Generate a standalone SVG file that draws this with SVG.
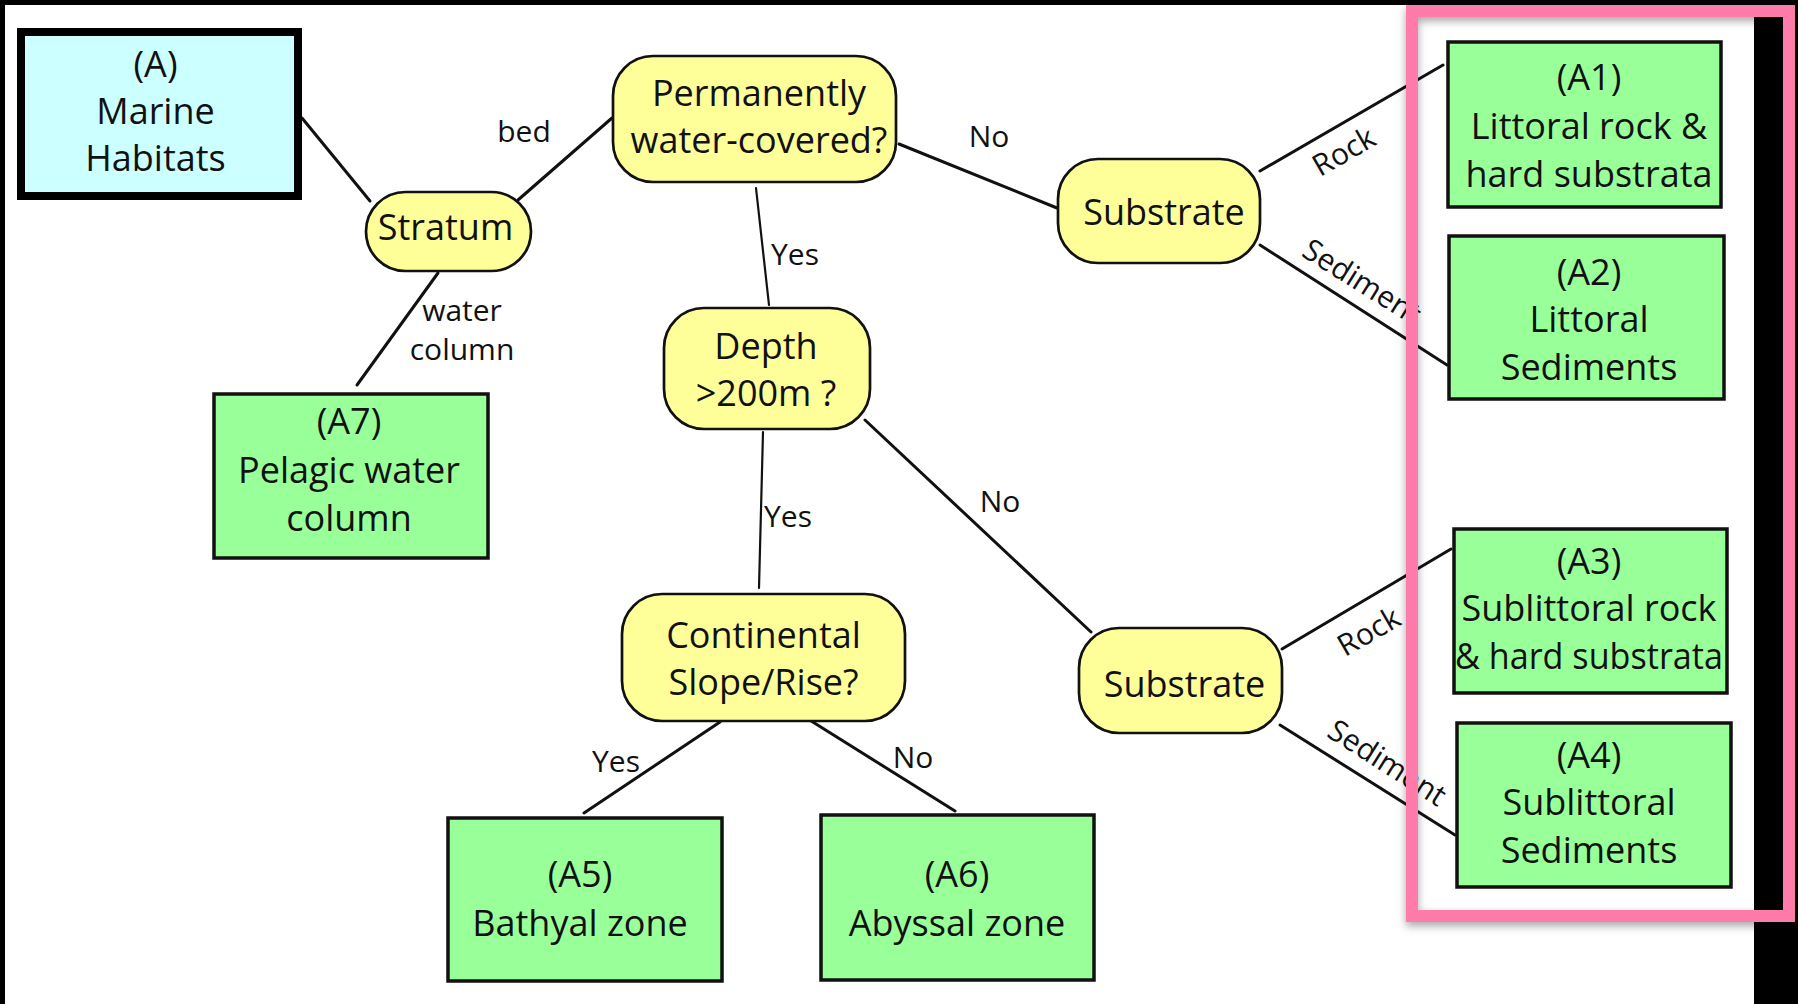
<svg xmlns="http://www.w3.org/2000/svg" width="1798" height="1004" viewBox="0 0 1798 1004">
<defs>
<style>
.t{font-family:"Open Sans","Noto Sans","Liberation Sans",sans-serif;font-size:36px;fill:#111;text-anchor:middle}
.l{font-family:"Open Sans","Noto Sans","Liberation Sans",sans-serif;font-size:30px;fill:#111;text-anchor:middle}
.dec{fill:#ffff99;stroke:#111;stroke-width:2.7}
.res{fill:#99ff99;stroke:#111;stroke-width:3.5}
.root{fill:#ccffff;stroke:#000;stroke-width:8}
.c line{stroke:#111;stroke-width:3;stroke-linecap:round}
.c line.thin{stroke-width:2.2}
</style>
<filter id="sh" x="-5%" y="-5%" width="115%" height="115%">
<feGaussianBlur stdDeviation="4"/>
</filter>
</defs>
<rect x="0" y="0" width="1798" height="1004" fill="#000"/>
<rect x="5" y="5" width="1749" height="999" fill="#fff"/>

<g id="connectors" class="c">
<line x1="302" y1="118" x2="370" y2="201"/>
<line x1="518" y1="200" x2="612" y2="118"/>
<line x1="438" y1="273" x2="357" y2="385"/>
<line x1="899" y1="144" x2="1057" y2="208"/>
<line class="thin" x1="756" y1="188" x2="769" y2="305"/>
<line class="thin" x1="763" y1="432" x2="759" y2="588"/>
<line x1="865" y1="420" x2="1091" y2="632"/>
<line x1="720" y1="722" x2="584" y2="813"/>
<line x1="808" y1="719" x2="955" y2="811"/>
<line x1="1260" y1="171" x2="1443" y2="65"/>
<line x1="1260" y1="245" x2="1447" y2="365"/>
<line x1="1282" y1="649" x2="1451" y2="549"/>
<line x1="1280" y1="725" x2="1455" y2="835"/>
</g>

<g id="edge-labels">
<text class="l" x="524" y="142">bed</text>
<text class="l" x="462" y="321">water</text>
<text class="l" x="462" y="360">column</text>
<text class="l" x="989" y="147">No</text>
<text class="l" x="795" y="265">Yes</text>
<text class="l" x="788" y="527">Yes</text>
<text class="l" x="1000" y="512">No</text>
<text class="l" x="616" y="772">Yes</text>
<text class="l" x="913" y="768">No</text>
<text class="l" transform="translate(1344,152) rotate(-30)" x="0" y="10">Rock</text>
<text class="l" transform="translate(1362,282) rotate(32)" x="0" y="10">Sediment</text>
<text class="l" transform="translate(1369,632) rotate(-30)" x="0" y="10">Rock</text>
<text class="l" transform="translate(1387,763) rotate(32.5)" x="0" y="10">Sediment</text>
</g>

<g id="node-A">
<rect class="root" x="21" y="32" width="277" height="164"/>
<text class="t" x="155.5" y="77">(A)</text>
<text class="t" x="155.5" y="124">Marine</text>
<text class="t" x="155.5" y="171">Habitats</text>
</g>
<g id="node-stratum">
<rect class="dec" x="366" y="192" width="165" height="79" rx="39.5"/>
<text class="t" x="445.5" y="240">Stratum</text>
</g>
<g id="node-permanently">
<rect class="dec" x="613" y="56" width="283" height="126" rx="40"/>
<text class="t" x="759" y="106">Permanently</text>
<text class="t" x="759" y="153">water-covered?</text>
</g>
<g id="node-substrate-top">
<rect class="dec" x="1058" y="159" width="202" height="104" rx="40"/>
<text class="t" x="1164" y="225">Substrate</text>
</g>
<g id="node-depth">
<rect class="dec" x="664" y="308" width="206" height="121" rx="40"/>
<text class="t" x="766" y="359">Depth</text>
<text class="t" x="766" y="406">&gt;200m ?</text>
</g>
<g id="node-continental">
<rect class="dec" x="622" y="594" width="283" height="127" rx="40"/>
<text class="t" x="763.5" y="648">Continental</text>
<text class="t" x="763.5" y="695">Slope/Rise?</text>
</g>
<g id="node-substrate-bottom">
<rect class="dec" x="1079" y="628" width="203" height="105" rx="40"/>
<text class="t" x="1184.5" y="697">Substrate</text>
</g>
<g id="node-A7">
<rect class="res" x="214" y="394" width="274" height="164"/>
<text class="t" x="349" y="434">(A7)</text>
<text class="t" x="349" y="483">Pelagic water</text>
<text class="t" x="349" y="531">column</text>
</g>
<g id="node-A5">
<rect class="res" x="448" y="818" width="274" height="163"/>
<text class="t" x="580" y="887">(A5)</text>
<text class="t" x="580" y="936">Bathyal zone</text>
</g>
<g id="node-A6">
<rect class="res" x="821" y="815" width="273" height="165"/>
<text class="t" x="957" y="887">(A6)</text>
<text class="t" x="957" y="936">Abyssal zone</text>
</g>
<g id="node-A1">
<rect class="res" x="1448" y="42" width="273" height="165"/>
<text class="t" x="1589" y="90">(A1)</text>
<text class="t" x="1589" y="139">Littoral rock &amp;</text>
<text class="t" x="1589" y="187">hard substrata</text>
</g>
<g id="node-A2">
<rect class="res" x="1449" y="236" width="275" height="163"/>
<text class="t" x="1589" y="285">(A2)</text>
<text class="t" x="1589" y="332">Littoral</text>
<text class="t" x="1589" y="380">Sediments</text>
</g>
<g id="node-A3">
<rect class="res" x="1454" y="529" width="273" height="164"/>
<text class="t" x="1589" y="574">(A3)</text>
<text class="t" x="1589" y="621">Sublittoral rock</text>
<text class="t" x="1589" y="669" textLength="268" lengthAdjust="spacingAndGlyphs">&amp; hard substrata</text>
</g>
<g id="node-A4">
<rect class="res" x="1457" y="723" width="274" height="164"/>
<text class="t" x="1589" y="768">(A4)</text>
<text class="t" x="1589" y="815">Sublittoral</text>
<text class="t" x="1589" y="863">Sediments</text>
</g>

<g id="highlight-frame">
<rect x="1412" y="15" width="377" height="905" fill="none" stroke="#000" stroke-opacity="0.35" stroke-width="12" filter="url(#sh)"/>
<rect x="1412" y="11" width="377" height="905" fill="none" stroke="#ff7ba9" stroke-width="12"/>
</g>
</svg>
